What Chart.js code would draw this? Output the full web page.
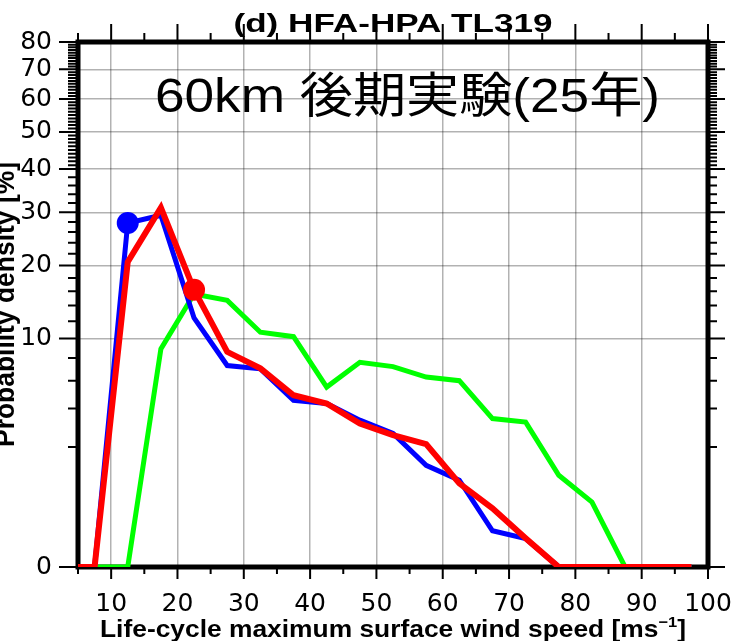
<!DOCTYPE html>
<html>
<head>
<meta charset="utf-8">
<script src="https://cdn.jsdelivr.net/npm/chart.js@4.4.1/dist/chart.umd.min.js"></script>
<style>
  html, body { margin: 0; padding: 0; background: #fff; }
  #wrap { width: 733px; height: 641px; }
</style>
</head>
<body>
<div id="wrap"><canvas id="pdfChart"></canvas></div>
<script>
// bin centres of life-cycle maximum wind speed [m/s]
const windBins = [2.5, 7.5, 12.5, 17.5, 22.5, 27.5, 32.5, 37.5, 42.5, 47.5, 52.5, 57.5, 62.5, 67.5, 72.5, 77.5, 82.5, 87.5, 92.5, 97.5];
// probability density [%]
const hfaDensity = [0, 0, 20.6, 31.0, 16.2, 8.6, 7.05, 4.9, 4.33, 3.12, 2.53, 2.12, 0.81, 0.335, 0.056, 0, 0, 0, 0, 0];
const hpaDensity = [0, 0, 27.8, 29.4, 12.4, 7.3, 7.0, 4.55, 4.33, 3.31, 2.61, 1.32, 0.89, 0.10, 0.055, 0, 0, 0, 0, 0];
const obsDensity = [0, 0, 0, 8.9, 15.6, 14.7, 10.7, 10.2, 5.5, 7.6, 7.2, 6.3, 6.0, 3.4, 3.2, 1.02, 0.43, 0, 0, 0];
// bins marked with a dot
const hfaMarkBin = 22.5;
const hpaMarkBin = 12.5;

const xTickValues = [10, 20, 30, 40, 50, 60, 70, 80, 90, 100];
const yTickValues = [0, 10, 20, 30, 40, 50, 60, 70, 80];

const titleText = '(d) HFA-HPA TL319';
const noteText = '60km 後期実験(25年)';
const xTitleText = 'Life-cycle maximum surface wind speed [ms';
const yTitleText = 'Probability density [%]';

const POW = 0.4;
const gridColor = 'rgba(0,0,0,0.3)';
const tickFont = { family: '"DejaVu Sans"', size: 25 };

// y axis spaced as value^0.4
class PowerScale extends Chart.LinearScale {
  getPixelForValue(value) {
    if (value === null || value === undefined || isNaN(value)) return NaN;
    const lo = Math.pow(this.min, POW), hi = Math.pow(this.max, POW);
    return this.getPixelForDecimal((Math.pow(Math.max(value, 0), POW) - lo) / (hi - lo));
  }
  getValueForPixel(pixel) {
    const lo = Math.pow(this.min, POW), hi = Math.pow(this.max, POW);
    return Math.pow(lo + this.getDecimalForPixel(pixel) * (hi - lo), 1 / POW);
  }
}
PowerScale.id = 'power';
PowerScale.defaults = Chart.LinearScale.defaults;
Chart.register(PowerScale);

function toPoints(values) {
  return windBins.map((x, i) => ({ x: x, y: values[i] }));
}

function fitText(ctx, text, font, x, y, width, align) {
  ctx.save();
  ctx.font = font;
  const w = ctx.measureText(text).width;
  ctx.translate(x, y);
  ctx.scale(width / w, 1);
  ctx.textAlign = align;
  ctx.textBaseline = 'alphabetic';
  ctx.fillText(text, 0, 0);
  ctx.restore();
}

const frameAndTicks = {
  id: 'frameAndTicks',
  beforeDatasetsDraw(chart) {
    const { ctx, chartArea: a } = chart;
    ctx.save();
    ctx.strokeStyle = '#000';
    ctx.lineWidth = 5;
    ctx.strokeRect(a.left, a.top, a.right - a.left, a.bottom - a.top);
    ctx.restore();
  },
  afterDraw(chart) {
    const { ctx, chartArea: a, scales } = chart;
    const xs = scales.x, ys = scales.y;
    ctx.save();
    ctx.strokeStyle = '#000';
    ctx.lineWidth = 2;
    ctx.beginPath();
    for (let v = 5; v <= 100; v += 5) {
      const px = xs.getPixelForValue(v);
      const major = v % 10 === 0;
      ctx.moveTo(px, a.top); ctx.lineTo(px, a.top - (major ? 18 : 9));
      ctx.moveTo(px, a.bottom); ctx.lineTo(px, a.bottom + (major ? 12 : 7));
    }
    for (let v = 0; v <= 80; v += (v < 40 ? 2 : 1)) {
      const py = ys.getPixelForValue(v);
      const major = v % 10 === 0;
      ctx.moveTo(a.left, py); ctx.lineTo(a.left - (major ? 19 : 10), py);
      ctx.moveTo(a.right, py); ctx.lineTo(a.right + (major ? 17 : 9), py);
    }
    ctx.stroke();

    ctx.fillStyle = '#000';
    // panel title
    fitText(ctx, titleText, 'bold 26px "Liberation Sans"', (a.left + a.right) / 2, 32, 319, 'center');
    // annotation
    fitText(ctx, noteText, '48px "Liberation Sans", "Noto Sans CJK JP"', 155, 112, 505, 'left');

    // x title with superscript
    const mainFont = 'bold 24px "Liberation Sans"', supFont = 'bold 15px "Liberation Sans"';
    ctx.font = mainFont;
    const w1 = ctx.measureText(xTitleText).width;
    const w3 = ctx.measureText(']').width;
    ctx.font = supFont;
    const w2 = ctx.measureText('\u22121').width;
    ctx.save();
    ctx.translate(100, 637);
    ctx.scale(586 / (w1 + w2 + w3), 1);
    ctx.textBaseline = 'alphabetic';
    ctx.textAlign = 'left';
    ctx.font = mainFont;
    ctx.fillText(xTitleText, 0, 0);
    ctx.font = supFont;
    ctx.fillText('\u22121', w1, -10);
    ctx.font = mainFont;
    ctx.fillText(']', w1 + w2, 0);
    ctx.restore();

    // y title, rotated, partly cut by the left edge
    ctx.save();
    ctx.translate(14, (a.top + a.bottom) / 2);
    ctx.rotate(-Math.PI / 2);
    fitText(ctx, yTitleText, 'bold 27px "Liberation Sans"', 0, 0, 285, 'center');
    ctx.restore();
    ctx.restore();
  }
};

new Chart(document.getElementById('pdfChart'), {
  type: 'line',
  data: {
    datasets: [
      {
        label: 'HFA',
        data: toPoints(hfaDensity),
        borderColor: '#ff0000',
        backgroundColor: '#ff0000',
        borderWidth: 6,
        pointRadius: c => (windBins[c.dataIndex] === hfaMarkBin ? 11 : 0),
        pointBorderWidth: 0
      },
      {
        label: 'HPA',
        data: toPoints(hpaDensity),
        borderColor: '#0000ff',
        backgroundColor: '#0000ff',
        borderWidth: 5,
        pointRadius: c => (windBins[c.dataIndex] === hpaMarkBin ? 11 : 0),
        pointBorderWidth: 0
      },
      {
        label: 'OBS',
        data: toPoints(obsDensity),
        borderColor: '#00ff00',
        backgroundColor: '#00ff00',
        borderWidth: 5,
        pointRadius: 0
      }
    ]
  },
  options: {
    responsive: true,
    maintainAspectRatio: false,
    animation: false,
    devicePixelRatio: 1,
    events: [],
    layout: { padding: { top: 42, right: 25, left: 0, bottom: 0 } },
    elements: { line: { tension: 0, borderJoinStyle: 'miter', fill: false } },
    plugins: { legend: { display: false }, tooltip: { enabled: false } },
    scales: {
      x: {
        type: 'linear',
        min: 5,
        max: 100,
        afterBuildTicks: s => { s.ticks = xTickValues.map(v => ({ value: v })); },
        afterFit: s => { s.height = 74; s.paddingLeft = 0; s.paddingRight = 0; },
        ticks: { font: tickFont, color: '#000', padding: 22, maxRotation: 0, autoSkip: false },
        grid: {
          drawTicks: false,
          lineWidth: 1.5,
          color: c => (c.tick && c.tick.value < 100 ? gridColor : 'transparent')
        },
        border: { display: false }
      },
      y: {
        type: 'power',
        min: 0,
        max: 80,
        afterBuildTicks: s => { s.ticks = yTickValues.map(v => ({ value: v })); },
        afterFit: s => { s.width = 78; s.paddingTop = 0; s.paddingBottom = 0; },
        ticks: { font: tickFont, color: '#000', padding: 26, autoSkip: false },
        grid: {
          drawTicks: false,
          lineWidth: 1.5,
          color: c => (c.tick && c.tick.value > 0 && c.tick.value < 80 ? gridColor : 'transparent')
        },
        border: { display: false }
      }
    }
  },
  plugins: [frameAndTicks]
});
</script>
</body>
</html>
